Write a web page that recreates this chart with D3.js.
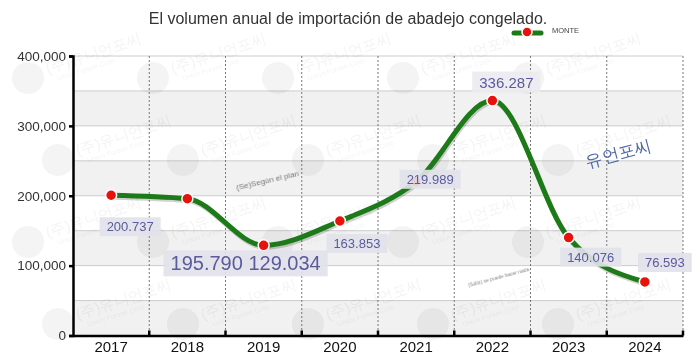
<!DOCTYPE html>
<html>
<head>
<meta charset="utf-8">
<script src="https://cdn.jsdelivr.net/npm/d3@7"></script>
<style>
  body { margin: 0; background: #fff; }
  text { font-family: "Liberation Sans", Arial, sans-serif; }
</style>
</head>
<body>
<div id="chart"></div>
<script>
// data
var years = ["2017", "2018", "2019", "2020", "2021", "2022", "2023", "2024"];
var imports = [200737, 195790, 129034, 163853, 219989, 336287, 140076, 76593];
var yTicks = [0, 100000, 200000, 300000, 400000];
var seriesName = "MONTE";
var title = "El volumen anual de importación de abadejo congelado.";

var svgWidth = 700, svgHeight = 360;
var margin = {top: 56, right: 17, bottom: 24.5, left: 73};

var svg = d3.select("#chart").append("svg")
  .attr("width", svgWidth)
  .attr("height", svgHeight);

var x = d3.scaleBand().domain(years).range([margin.left, svgWidth - margin.right]);
var y = d3.scaleLinear().domain([0, 400000]).range([svgHeight - margin.bottom, margin.top]);

// spanish style numbers for the value labels
var es = d3.formatLocale({decimal: ",", thousands: ".", grouping: [3], currency: ["", "€"]});
var fmtLabel = es.format(",d");

// alternating stripes
var stripes = d3.range(0, 400000, 50000);
svg.append("g").selectAll("rect").data(stripes).enter().append("rect")
  .attr("x", margin.left)
  .attr("width", svgWidth - margin.right - margin.left)
  .attr("y", function(d) { return y(d + 50000); })
  .attr("height", function(d) { return y(d) - y(d + 50000); })
  .attr("fill", function(d) { return (d / 50000) % 2 === 0 ? "#f1f1f1" : "#ffffff"; });

// horizontal grid
svg.append("g").selectAll("line").data(d3.range(50000, 400001, 50000)).enter().append("line")
  .attr("x1", margin.left).attr("x2", svgWidth - margin.right)
  .attr("y1", function(d) { return y(d); }).attr("y2", function(d) { return y(d); })
  .attr("stroke", "#cccccc");

// vertical dashed lines at band edges
svg.append("g").selectAll("line").data(years).enter().append("line")
  .attr("x1", function(d) { return x(d) + x.bandwidth(); })
  .attr("x2", function(d) { return x(d) + x.bandwidth(); })
  .attr("y1", y(400000)).attr("y2", y(0))
  .attr("stroke", "#777").attr("stroke-dasharray", "2,2");

// faint watermark tiles
var wm = svg.append("g").attr("opacity", 0.06);
d3.range(0, 4).forEach(function(r) {
  d3.range(0, 5).forEach(function(c) {
    var wx = 28 + c * 125 + (r % 2) * 30;
    var wy = 78 + r * 82;
    var g = wm.append("g").attr("transform", "translate(" + wx + "," + wy + ") rotate(-18)");
    g.append("circle").attr("r", 16).attr("fill", "#445");
    g.append("text").attr("x", 20).attr("y", 2).attr("font-size", 15).attr("fill", "#445")
      .text("(주)유니언포씨");
    g.append("text").attr("x", 28).attr("y", 12).attr("font-size", 7).attr("fill", "#445")
      .text("Union Forsee Corp.");
  });
});

// axes
var leftAxis = d3.axisLeft(y).tickValues(yTicks).tickFormat(d3.format(",")).tickSize(4);
var gy = svg.append("g").attr("transform", "translate(" + margin.left + ",0)").call(leftAxis);
gy.select(".domain").attr("stroke", "#000").attr("stroke-width", 2.5);
gy.selectAll(".tick line").attr("stroke", "#000").attr("stroke-width", 2.5);
gy.selectAll(".tick text").attr("font-size", 13.5).attr("fill", "#333")
  .attr("font-family", "Liberation Sans, Arial, sans-serif");

var bottomAxis = d3.axisBottom(x).tickSize(0).tickPadding(6);
var gx = svg.append("g").attr("transform", "translate(0," + y(0) + ")").call(bottomAxis);
gx.select(".domain").attr("stroke", "#000").attr("stroke-width", 2.5);
gx.selectAll(".tick text").attr("font-size", 15).attr("fill", "#111")
  .attr("font-family", "Liberation Serif, Times New Roman, serif");
gx.selectAll(".edge").data(years).enter().append("line")
  .attr("class", "edge")
  .attr("x1", function(d) { return x(d) + x.bandwidth(); })
  .attr("x2", function(d) { return x(d) + x.bandwidth(); })
  .attr("y1", -5).attr("y2", 0)
  .attr("stroke", "#000").attr("stroke-width", 2.5);

// side notes
svg.append("text").attr("transform", "translate(268,183) rotate(-13)")
  .attr("text-anchor", "middle").attr("font-size", 8).attr("fill", "#777")
  .text("(Se)Según el plan");
svg.append("text").attr("transform", "translate(499,279) rotate(-15)")
  .attr("text-anchor", "middle").attr("font-size", 5).attr("fill", "#888")
  .text("(Sollo) se puede hacer nada");
svg.append("text").attr("transform", "translate(620,159) rotate(-15)")
  .attr("text-anchor", "middle").attr("font-size", 17).attr("fill", "#4d6aa6")
  .attr("font-family", "Noto Sans CJK KR, sans-serif")
  .text("유언포씨");

// the line
var pts = years.map(function(d, i) { return {year: d, value: imports[i]}; });
var line = d3.line()
  .x(function(d) { return x(d.year) + x.bandwidth() / 2; })
  .y(function(d) { return y(d.value); })
  .curve(d3.curveMonotoneX);

svg.append("path").datum(pts).attr("d", line)
  .attr("transform", "translate(1,2)")
  .attr("fill", "none").attr("stroke", "#000").attr("stroke-opacity", 0.18)
  .attr("stroke-width", 5).attr("stroke-linecap", "round");
svg.append("path").datum(pts).attr("d", line)
  .attr("fill", "none").attr("stroke", "#1d7a18")
  .attr("stroke-width", 5).attr("stroke-linecap", "round");

svg.append("g").selectAll("circle").data(pts).enter().append("circle")
  .attr("cx", function(d) { return x(d.year) + x.bandwidth() / 2; })
  .attr("cy", function(d) { return y(d.value); })
  .attr("r", 5.5)
  .attr("fill", "#e8120c").attr("stroke", "#fff").attr("stroke-width", 1.5);

// value labels, offset from their points
var labelOffsets = [[19, 36], null, [-18, 25], [17, 27], [14, 2], [14, -13], [22, 24], [20, -15]];
var labelSizes = [13, 13, 20, 13, 13, 15, 13, 13];
var labels = svg.append("g");
pts.forEach(function(d, i) {
  var off = labelOffsets[i];
  if (!off) return;
  var txt = fmtLabel(d.value);
  if (i === 2) txt = fmtLabel(pts[1].value) + " " + fmtLabel(d.value);
  var cx = x(d.year) + x.bandwidth() / 2 + off[0];
  var cy = y(d.value) + off[1];
  var t = labels.append("text")
    .attr("x", cx).attr("y", cy)
    .attr("text-anchor", "middle")
    .attr("font-size", labelSizes[i])
    .attr("fill", "#5a5a9c")
    .text(txt);
  var bb = t.node().getBBox();
  labels.insert("rect", function() { return t.node(); })
    .attr("x", bb.x - 7).attr("y", bb.y - 2)
    .attr("width", bb.width + 14).attr("height", bb.height + 4)
    .attr("fill", i === 5 ? "#ececf0" : "#e2e2ea").attr("opacity", 0.92);
});

// title and legend
svg.append("text").attr("x", 348).attr("y", 24)
  .attr("text-anchor", "middle").attr("font-size", 16).attr("fill", "#333")
  .text(title);
svg.append("line").attr("x1", 514).attr("x2", 541).attr("y1", 33).attr("y2", 33)
  .attr("stroke", "#1d7a18").attr("stroke-width", 5).attr("stroke-linecap", "round");
svg.append("circle").attr("cx", 527).attr("cy", 32).attr("r", 5)
  .attr("fill", "#e8120c").attr("stroke", "#fff").attr("stroke-width", 1.5);
svg.append("text").attr("x", 552).attr("y", 33).attr("font-size", 7.5).attr("fill", "#444")
  .text(seriesName);
</script>
</body>
</html>
